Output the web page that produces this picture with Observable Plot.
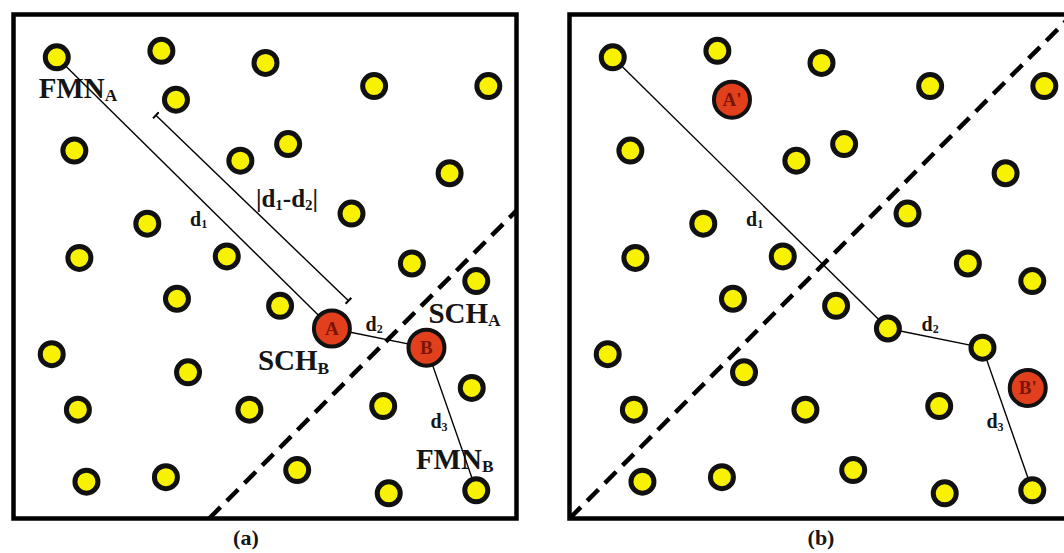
<!DOCTYPE html>
<html>
<head>
<meta charset="utf-8">
<script src="https://cdn.jsdelivr.net/npm/d3@7"></script>
<script src="https://cdn.jsdelivr.net/npm/@observablehq/plot@0.6"></script>
<style>
html, body { margin: 0; padding: 0; background: #fff; overflow: hidden; }
</style>
</head>
<body>
<div id="chart"></div>
<script>
// ---- data (field coordinates 0..100 inside each square panel) ----
const panels = ["(a)", "(b)"];
const nodeX = [8.6, 29.4, 50.1, 71.7, 94.4, 32.3, 12.1, 45.1, 54.6, 86.7, 67.2, 26.6, 13.1, 42.4, 79.2, 92.0,
               32.5, 53.0, 63.3, 82.1, 7.6, 34.7, 91.1, 12.8, 46.9, 73.5, 14.5, 30.3, 56.4, 74.6, 92.0];
const nodeY = [91.5, 92.8, 90.4, 85.8, 85.8, 83.1, 73.0, 71.0, 74.3, 68.5, 60.5, 58.5, 51.7, 52.0, 50.6, 47.1,
               43.6, 42.2, 37.7, 33.9, 32.6, 29.0, 25.9, 21.6, 21.6, 22.3, 7.3, 8.2, 9.6, 5.0, 5.6];
const headPanel = ["(a)", "(a)", "(b)", "(b)"];
const headNode = [18, 19, 5, 22];
const headLabel = ["A", "B", "A'", "B'"];
const routeNodes = [0, 18, 19, 30];
const routeLabel = ["d_{1}", "d_{2}", "d_{3}"];
const routeLabelX = [35.1, 70.0, 82.9];
const routeLabelY = [58.1, 37.3, 17.9];
const roleLabel = ["FMN_{A}", "SCH_{B}", "SCH_{A}", "FMN_{B}"];
const roleLabelX = [5.0, 48.6, 82.5, 80.0];
const roleLabelY = [83.5, 29.4, 38.8, 9.9];
const gapLabel = ["|d_{1}-d_{2}|"];
const gapLabelX = [48.2];
const gapLabelY = [61.9];
const bracketX = [28.3, 66.6];
const bracketY = [80.0, 43.2];
const boundaryX1 = [38.9, 0];
const boundaryY1 = [0, 0];
const boundaryX2 = [100, 100];
const boundaryY2 = [61.1, 100];
const captionX = [46.2, 50.0];
const captionY = [-5.2, -5.2];

// ---- tables built from the arrays ----
const isHead = (p, i) => headNode.some((n, k) => n === i && headPanel[k] === p);
const yellowNodes = panels.flatMap(p => nodeX.map((x, i) => ({panel: p, i, x, y: nodeY[i]})).filter(d => !isHead(p, d.i)));
const heads = headNode.map((n, k) => ({panel: headPanel[k], x: nodeX[n], y: nodeY[n], label: headLabel[k]}));
const routes = panels.flatMap(p => routeNodes.slice(1).map((n, k) => ({
  panel: p, x1: nodeX[routeNodes[k]], y1: nodeY[routeNodes[k]], x2: nodeX[n], y2: nodeY[n],
  label: routeLabel[k], lx: routeLabelX[k], ly: routeLabelY[k]
})));
const roles = roleLabel.map((t, k) => ({panel: "(a)", text: t, x: roleLabelX[k], y: roleLabelY[k]}));
const gaps = gapLabel.map((t, k) => ({panel: "(a)", text: t, x: gapLabelX[k], y: gapLabelY[k]}));
const bracket = [{panel: "(a)", x1: bracketX[0], y1: bracketY[0], x2: bracketX[1], y2: bracketY[1]}];
const boundaries = panels.map((p, k) => ({panel: p, x1: boundaryX1[k], y1: boundaryY1[k], x2: boundaryX2[k], y2: boundaryY2[k]}));
const captions = panels.map((p, k) => ({panel: p, x: captionX[k], y: captionY[k]}));

const serif = "'Liberation Serif', 'Times New Roman', Times, serif";

const chart = Plot.plot({
  width: 1080,
  height: 553,
  marginLeft: 12,
  marginRight: 7,
  marginTop: 14,
  marginBottom: 35,
  fx: {domain: panels, paddingInner: 0.09515, paddingOuter: 0, axis: null},
  x: {domain: [0, 100], axis: null},
  y: {domain: [0, 100], axis: null},
  style: {maxWidth: "none", background: "white", fontFamily: serif, overflow: "visible"},
  marks: [
    Plot.frame({stroke: "black", strokeWidth: 4.5}),
    Plot.link(boundaries, {fx: "panel", x1: "x1", y1: "y1", x2: "x2", y2: "y2",
      stroke: "black", strokeWidth: 4.5, strokeDasharray: "16,9"}),
    Plot.text(roles, {fx: "panel", x: "x", y: "y", text: "text", textAnchor: "start", lineAnchor: "bottom",
      fontSize: 29, fontWeight: "bold", fill: "#151515", fontFamily: serif}),
    Plot.text(gaps, {fx: "panel", x: "x", y: "y", text: "text", textAnchor: "start", lineAnchor: "bottom",
      fontSize: 25, fontWeight: "bold", fill: "#151515", fontFamily: serif}),
    Plot.link(routes, {fx: "panel", x1: "x1", y1: "y1", x2: "x2", y2: "y2", stroke: "black", strokeWidth: 1.4}),
    Plot.link(bracket, {fx: "panel", x1: "x1", y1: "y1", x2: "x2", y2: "y2", stroke: "black", strokeWidth: 1.4,
      markerStart: "tick", markerEnd: "tick"}),
    Plot.dot(yellowNodes, {fx: "panel", x: "x", y: "y", r: 11.5, fill: "#f8f200", stroke: "#111", strokeWidth: 5}),
    Plot.dot(heads, {fx: "panel", x: "x", y: "y", r: 18, fill: "#e2401c", stroke: "#111", strokeWidth: 4}),
    Plot.text(heads, {fx: "panel", x: "x", y: "y", text: "label", fill: "#7a1406", fontSize: 19,
      fontWeight: "bold", fontFamily: serif}),
    Plot.text(routes, {fx: "panel", x: "lx", y: "ly", text: "label", textAnchor: "start", lineAnchor: "bottom",
      fontSize: 20, fontWeight: "bold", fill: "#151515", fontFamily: serif}),
    Plot.text(captions, {fx: "panel", x: "x", y: "y", text: "panel", lineAnchor: "bottom",
      fontSize: 22, fontWeight: "bold", fill: "#151515", fontFamily: serif})
  ]
});

document.getElementById("chart").appendChild(chart);

// turn "X_{s}" into real subscripts
const NS = "http://www.w3.org/2000/svg";
chart.querySelectorAll("text").forEach(t => {
  const s = t.textContent;
  if (!s.includes("_{")) return;
  const fs = parseFloat(getComputedStyle(t).fontSize) || 20;
  const shift = Math.round(fs * 0.12 * 10) / 10;
  while (t.firstChild) t.removeChild(t.firstChild);
  let lowered = false;
  s.split(/(_\{[^}]*\})/).forEach(part => {
    if (!part) return;
    const ts = document.createElementNS(NS, "tspan");
    if (part.startsWith("_{")) {
      ts.textContent = part.slice(2, -1);
      ts.setAttribute("font-size", (fs * 0.6).toFixed(1));
      ts.setAttribute("dy", shift);
      lowered = true;
    } else {
      ts.textContent = part;
      if (lowered) { ts.setAttribute("dy", -shift); lowered = false; }
    }
    t.appendChild(ts);
  });
});
</script>
</body>
</html>
